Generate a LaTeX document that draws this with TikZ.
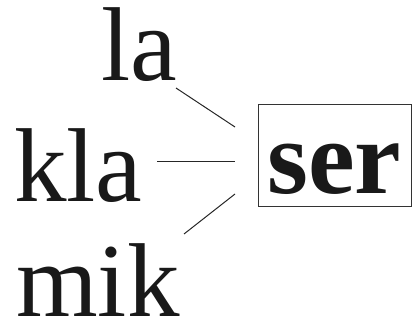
\documentclass[tikz,border=0pt]{standalone}
\usepackage{fontspec}
\setmainfont{Liberation Serif}
\begin{document}
\begin{tikzpicture}[x=1pt,y=1pt,
  word/.style={anchor=base west,inner sep=0pt,font=\fontsize{105}{105}\selectfont,text=black!90},
  conn/.style={line width=1pt,draw=black!85}]
\useasboundingbox (0,0) rectangle (412,322);
\node[word] (la) at (101,242) {la};
\node[word] (kla) at (14,121) {kla};
\node[word] (mik) at (16,6) {mik};
\node[draw=black!80,line width=1.2pt,anchor=south west,minimum width=152.8pt,minimum height=102pt,inner sep=0pt] (box) at (258,115) {};
\node[word,font=\fontsize{105}{105}\selectfont\bfseries] (ser) at (267,129) {ser};
\coordinate (a1) at (176,234); \coordinate (b1) at (235,195);
\coordinate (a2) at (157,161); \coordinate (b2) at (235,161);
\coordinate (a3) at (184,88);  \coordinate (b3) at (235,128);
\draw[conn] (a1) -- (b1);
\draw[conn] (a2) -- (b2);
\draw[conn] (a3) -- (b3);
\end{tikzpicture}
\end{document}
